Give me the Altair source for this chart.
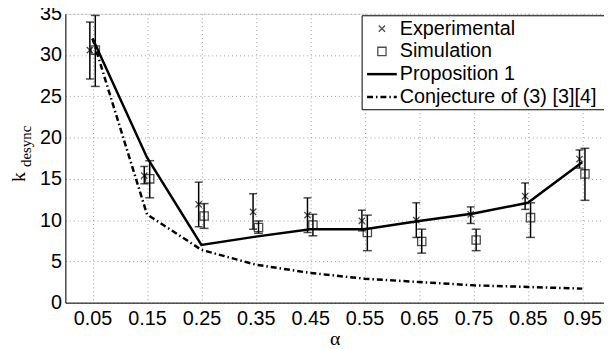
import altair as alt
import pandas as pd

alpha = [0.05, 0.15, 0.25, 0.35, 0.45, 0.55, 0.65, 0.75, 0.85, 0.95]
exp_mean = [30.6, 15.4, 11.9, 11.0, 10.6, 9.9, 10.0, 10.7, 12.9, 17.4]
exp_lo = [27.1, 14.4, 9.2, 8.9, 8.5, 8.7, 7.9, 9.6, 11.3, 16.3]
exp_hi = [34.0, 16.5, 14.6, 13.2, 12.7, 11.2, 12.1, 11.6, 14.5, 18.5]
sim_mean = [30.6, 15.0, 10.5, 9.1, 9.4, 8.5, 7.4, 7.6, 10.3, 15.6]
sim_lo = [26.2, 12.7, 9.0, 8.4, 8.1, 6.3, 6.0, 6.3, 7.9, 12.4]
sim_hi = [34.8, 17.2, 12.0, 9.9, 10.7, 10.6, 8.9, 8.9, 12.1, 18.7]
prop = [32.0, 17.6, 7.0, 8.0, 8.9, 8.9, 9.9, 10.8, 12.1, 17.0]
conj = [32.0, 10.7, 6.4, 4.6, 3.6, 2.9, 2.5, 2.1, 1.9, 1.7]
legend_labels = ["Experimental", "Simulation", "Proposition 1", "Conjecture of (3) [3][4]"]
x_ticks = alpha
y_ticks = [0, 5, 10, 15, 20, 25, 30, 35]

OFF = 0.005
W, H = 544.5, 292
FONT = "Liberation Sans"
FS = 20

df_exp = pd.DataFrame({"a": [a - OFF for a in alpha], "m": exp_mean, "lo": exp_lo, "hi": exp_hi})
df_sim = pd.DataFrame({"a": [a + OFF for a in alpha], "m": sim_mean, "lo": sim_lo, "hi": sim_hi})
df_line = pd.DataFrame({"a": alpha, "prop": prop, "conj": conj})
one = pd.DataFrame({"k": [0]})  # single row for annotations

xs = alt.Scale(domain=[0, 0.99], nice=False, zero=False)
ys = alt.Scale(domain=[0, 35], nice=False)

X = alt.X("a:Q", scale=xs, axis=alt.Axis(values=x_ticks, format=".2f", title="α",
                                         titleFont="Liberation Serif", titleFontSize=20,
                                         titleFontWeight="normal", titlePadding=0,
                                         grid=True, gridDash=[1, 3], gridColor="#a0a0a0",
                                         labelFont=FONT, labelFontSize=FS, labelColor="black",
                                         labelPadding=6, ticks=False, domainColor="black",
                                         titleColor="black"))

def Y(field):
    return alt.Y(field, scale=ys, axis=alt.Axis(values=y_ticks, title=None, grid=True,
                                                gridDash=[1, 3], gridColor="#a0a0a0",
                                                labelFont=FONT, labelFontSize=FS,
                                                labelColor="black", labelPadding=4,
                                                ticks=False, domainColor="black"))

cross_path = "M-1,-1L1,1M-1,1L1,-1"

exp_bar = alt.Chart(df_exp).mark_rule(color="black", strokeWidth=1.5).encode(x=X, y=Y("lo:Q"), y2="hi:Q")
exp_cap_lo = alt.Chart(df_exp).mark_tick(color="black", orient="horizontal", size=8, thickness=1.5).encode(x=X, y=Y("lo:Q"))
exp_cap_hi = alt.Chart(df_exp).mark_tick(color="black", orient="horizontal", size=8, thickness=1.5).encode(x=X, y=Y("hi:Q"))
exp_pt = alt.Chart(df_exp).mark_point(shape=cross_path, size=40, color="black", strokeWidth=1.3, filled=False).encode(x=X, y=Y("m:Q"))

sim_bar = alt.Chart(df_sim).mark_rule(color="black", strokeWidth=1.5).encode(x=X, y=Y("lo:Q"), y2="hi:Q")
sim_cap_lo = alt.Chart(df_sim).mark_tick(color="black", orient="horizontal", size=9, thickness=1.5).encode(x=X, y=Y("lo:Q"))
sim_cap_hi = alt.Chart(df_sim).mark_tick(color="black", orient="horizontal", size=9, thickness=1.5).encode(x=X, y=Y("hi:Q"))
sim_pt = alt.Chart(df_sim).mark_point(shape="square", size=70, color="black", strokeWidth=1.3, filled=False).encode(x=X, y=Y("m:Q"))

prop_line = alt.Chart(df_line).mark_line(color="black", strokeWidth=2.5).encode(x=X, y=Y("prop:Q"))
conj_line = alt.Chart(df_line).mark_line(color="black", strokeWidth=2.5, strokeDash=[6, 3, 1.5, 3]).encode(x=X, y=Y("conj:Q"))

# legend (annotation, pixel positions inside plot area)
LX0, LY0, LX1, LY1 = 300, 2, 620, 97
row_y = [15, 38, 61, 84]
sym_x = 320
line_x0, line_x1 = 305, 335
text_x = 338

leg = [alt.Chart(one).mark_rect(fill="white", stroke="black", strokeWidth=1).encode(
    x=alt.value(LX0), x2=alt.value(LX1), y=alt.value(LY0), y2=alt.value(LY1))]
for lab, ry in zip(legend_labels, row_y):
    leg.append(alt.Chart(one).mark_text(text=lab, align="left", baseline="middle", font=FONT,
                                        fontSize=FS, fontWeight="normal", color="black").encode(
        x=alt.value(text_x), y=alt.value(ry)))
leg.append(alt.Chart(one).mark_point(shape=cross_path, size=40, color="black", strokeWidth=1.3, filled=False).encode(
    x=alt.value(sym_x), y=alt.value(row_y[0])))
leg.append(alt.Chart(one).mark_point(shape="square", size=70, color="black", strokeWidth=1.3, filled=False).encode(
    x=alt.value(sym_x), y=alt.value(row_y[1])))
leg.append(alt.Chart(one).mark_rule(color="black", strokeWidth=2.5).encode(
    x=alt.value(line_x0), x2=alt.value(line_x1), y=alt.value(row_y[2])))
leg.append(alt.Chart(one).mark_rule(color="black", strokeWidth=2.5, strokeDash=[6, 3, 1.5, 3]).encode(
    x=alt.value(line_x0), x2=alt.value(line_x1), y=alt.value(row_y[3])))

ytitle_k = alt.Chart(one).mark_text(text="k", angle=270, align="center", baseline="middle",
                                    font="Liberation Serif", fontSize=20, color="black").encode(
    x=alt.value(-47), y=alt.value(165))
ytitle_sub = alt.Chart(one).mark_text(text="desync", angle=270, align="center", baseline="middle",
                                      font="Liberation Serif", fontSize=15, color="black").encode(
    x=alt.value(-40), y=alt.value(134))

chart = alt.layer(
    conj_line, prop_line,
    exp_bar, exp_cap_lo, exp_cap_hi, sim_bar, sim_cap_lo, sim_cap_hi,
    exp_pt, sim_pt,
    *leg, ytitle_k, ytitle_sub
).properties(
    width=W, height=H,
    autosize=alt.AutoSizeParams(type="none"),
    padding={"left": 58, "top": 4, "right": 0, "bottom": 45},
).configure_view(stroke="black", strokeWidth=1).configure(background="white")

chart.save("out.html", embed_options={"renderer": "svg", "actions": False})
